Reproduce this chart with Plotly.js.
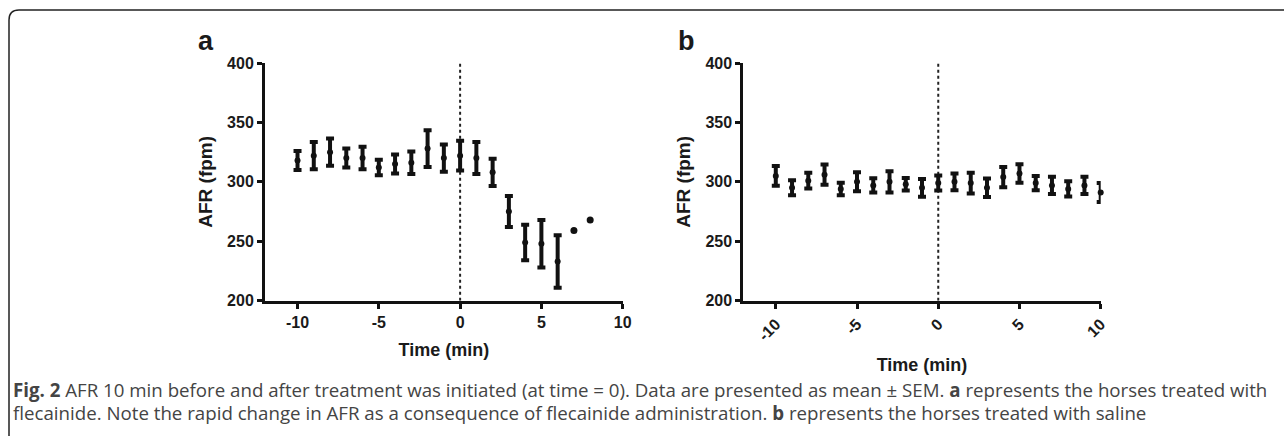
<!DOCTYPE html>
<html>
<head>
<meta charset="utf-8">
<script src="https://cdn.plot.ly/plotly-3.0.1.min.js"></script>
<style>html,body{margin:0;padding:0;background:#fff;}#chart{width:1284px;height:436px;}</style>
</head>
<body>
<div id="chart"></div>
<script>
// Data
const time = [-10,-9,-8,-7,-6,-5,-4,-3,-2,-1,0,1,2,3,4,5,6,7,8];
const meanA = [318,322,325,320,320,312,315,316,328,320,322,320,308,275,249,248,233,259,268];
const semA  = [8,11.5,11.5,8,9.5,6.5,8,9.5,15.5,11.5,12.5,13.5,11.5,13,15,20,22,null,null];

const timeB = [-10,-9,-8,-7,-6,-5,-4,-3,-2,-1,0,1,2,3,4,5,6,7,8,9,10];
const meanB = [305,295,301,306,294,300,297,300,298,295,299,300,299,295,304,307,299,297,294,297,291];
const semB  = [8.3,6.3,6.7,8.5,5.3,8,6,9,5.3,7.5,6.3,7,8.7,7.8,8.5,7.8,6,7.3,6.4,7.2,8];

const xTicks = [-10,-5,0,5,10];
const yTicks = [200,250,300,350,400];

const W = 1284, H = 436;
const px = v => v / W;
const py = v => 1 - v / H;

const boldFont = (s) => ({family: 'Liberation Sans, Arial, sans-serif', size: s, color: '#1a1a1a', weight: 'bold'});

function errTraces(x, y, e, xa, ya) {
  const idxE = [], idxN = [];
  e.forEach((v, i) => (v == null ? idxN : idxE).push(i));
  return [
    {
      type: 'scatter', mode: 'markers', x: idxE.map(i => x[i]), y: idxE.map(i => y[i]), xaxis: xa, yaxis: ya,
      marker: {color: '#111', size: 6},
      error_y: {type: 'data', array: idxE.map(i => e[i]), symmetric: true, visible: true, color: '#111', thickness: 4, width: 4},
      cliponaxis: false, showlegend: false
    },
    {
      type: 'scatter', mode: 'markers', x: idxN.map(i => x[i]), y: idxN.map(i => y[i]), xaxis: xa, yaxis: ya,
      marker: {color: '#111', size: 7}, cliponaxis: false, showlegend: false
    }
  ];
}

const data = [
  ...errTraces(time, meanA, semA, 'x', 'y'),
  ...errTraces(timeB, meanB, semB, 'x2', 'y2')
];

function xAxis(dom, anchor, angle, standoff) {
  return {
    domain: dom, anchor: anchor, range: [-12, 10], tickvals: xTicks, ticktext: xTicks.map(String),
    tickangle: angle, showgrid: false, zeroline: false, showline: true, linewidth: 3, linecolor: '#111',
    ticks: 'outside', ticklen: 5, tickwidth: 3, tickcolor: '#111', tickfont: boldFont(16),
    title: {text: 'Time (min)', font: boldFont(18), standoff: standoff}
  };
}
function yAxis(anchor) {
  return {
    domain: [py(300.7), py(63)], anchor: anchor, range: [200, 400], tickvals: yTicks,
    showgrid: false, zeroline: false, showline: true, linewidth: 3, linecolor: '#111',
    ticks: 'outside', ticklen: 5, tickwidth: 3, tickcolor: '#111', tickfont: boldFont(16),
    title: {text: 'AFR (fpm)', font: boldFont(19), standoff: 10}
  };
}

const capFont = {family: 'Open Sans, Noto Sans, sans-serif', size: 18.7, color: '#444'};

const layout = {
  width: W, height: H,
  margin: {l: 0, r: 0, t: 0, b: 0},
  paper_bgcolor: '#fff', plot_bgcolor: '#fff',
  xaxis: xAxis([px(265), px(622.7)], 'y', 0, 14),
  yaxis: yAxis('x'),
  xaxis2: xAxis([px(743.3), px(1100.7)], 'y2', -45, 16),
  yaxis2: yAxis('x2'),
  shapes: [
    {type: 'line', xref: 'x', yref: 'y', x0: 0, x1: 0, y0: 200, y1: 400, line: {color: '#222', width: 2, dash: 'dot'}, layer: 'below'},
    {type: 'line', xref: 'x2', yref: 'y2', x0: 0, x1: 0, y0: 200, y1: 400, line: {color: '#222', width: 2, dash: 'dot'}, layer: 'below'},
    {type: 'path', xref: 'paper', yref: 'paper',
     path: `M ${px(9)},${py(438)} L ${px(9)},${py(20)} Q ${px(9)},${py(10)} ${px(19)},${py(10)} L ${px(1290)},${py(10)}`,
     line: {color: '#222', width: 1.5}}
  ],
  annotations: [
    {text: 'a', xref: 'paper', yref: 'paper', x: px(206), y: py(41), showarrow: false, font: boldFont(27), xanchor: 'center', yanchor: 'middle'},
    {text: 'b', xref: 'paper', yref: 'paper', x: px(686), y: py(41), showarrow: false, font: boldFont(27), xanchor: 'center', yanchor: 'middle'},
    {text: '<b>Fig. 2</b> AFR 10 min before and after treatment was initiated (at time = 0). Data are presented as mean ± SEM. <b>a</b> represents the horses treated with',
     xref: 'paper', yref: 'paper', x: px(11), y: py(389), showarrow: false, font: capFont, xanchor: 'left', yanchor: 'middle', align: 'left'},
    {text: 'flecainide. Note the rapid change in AFR as a consequence of flecainide administration. <b>b</b> represents the horses treated with saline',
     xref: 'paper', yref: 'paper', x: px(11), y: py(412), showarrow: false, font: capFont, xanchor: 'left', yanchor: 'middle', align: 'left'}
  ]
};

Plotly.newPlot('chart', data, layout, {displayModeBar: false, staticPlot: true});
</script>
</body>
</html>
